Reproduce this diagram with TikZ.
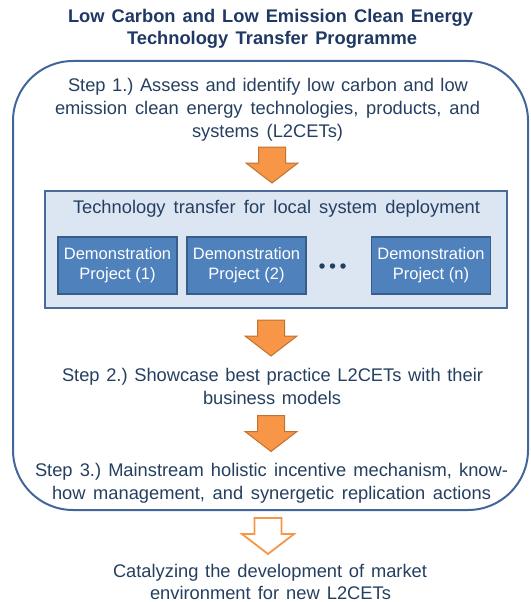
\documentclass[tikz,border=0pt]{standalone}
\usepackage{fontspec}
\setmainfont{Liberation Sans}
\frenchspacing
\definecolor{textblue}{HTML}{243F60}
\definecolor{titleblue}{HTML}{1F3864}
\definecolor{frameblue}{HTML}{43669A}
\definecolor{panelfill}{HTML}{DCE6F2}
\definecolor{paneledge}{HTML}{4A6A98}
\definecolor{demofill}{HTML}{4F81BD}
\definecolor{demoedge}{HTML}{385D8A}
\definecolor{orangefill}{HTML}{F79646}
\definecolor{orangeedge}{HTML}{C0722F}
\newcommand{\jline}[2]{\makebox[#1pt][s]{#2}}
\begin{document}
\begin{tikzpicture}[x=1pt,y=-1pt,
  txt/.style={anchor=base, inner sep=0pt, text=textblue, font=\fontsize{18.3}{22}\selectfont},
  ttl/.style={anchor=base, inner sep=0pt, text=titleblue, font=\bfseries\fontsize{18.3}{22}\selectfont},
  demo/.style={draw=demoedge, fill=demofill, line width=1.5pt, minimum width=119pt, minimum height=57pt, inner sep=0pt, align=center, text=white, font=\fontsize{16.5}{20}\selectfont},
  panel/.style={draw=paneledge, fill=panelfill, line width=1.5pt},
  frame/.style={draw=frameblue, line width=2pt, rounded corners=60pt},
  solidarrow/.style={fill=orangefill, draw=orangeedge, line width=1pt},
  hollowarrow/.style={fill=white, draw=orangefill, line width=1.8pt},
  downarr/.pic={\path[pic actions] (-13.5,0) -- (13.5,0) -- (13.5,16) -- (26,16) -- (0,36) -- (-26,16) -- (-13.5,16) -- cycle;},
  dot/.style={circle, fill=textblue, inner sep=0pt, minimum size=5.5pt}
]
\useasboundingbox (0,0) rectangle (530,602);

% title
\node[ttl] (t1) at (270.5,22.5) {\jline{405}{Low Carbon and Low Emission Clean Energy}};
\node[ttl] (t2) at (272,45) {\jline{290}{Technology Transfer Programme}};

% outer frame
\draw[frame] (13,61) rectangle (528,510);

% step 1
\node[txt] (s1a) at (268,91.5) {\jline{400}{Step 1.) Assess and identify low carbon and low}};
\node[txt] (s1b) at (267.5,114.5) {\jline{425}{emission clean energy technologies, products, and}};
\node[txt] (s1c) at (267.5,137) {\jline{151}{systems (L2CETs)}};

\pic[solidarrow] (a1) at (272,147) {downarr};

% panel
\draw[panel] (45,191) rectangle (507,308);
\node[txt] (tt) at (276.5,213) {\jline{407}{Technology transfer for local system deployment}};
\node[demo] (d1) at (117.5,265.5) {Demonstration\\Project (1)};
\node[demo] (d2) at (246.5,265.5) {Demonstration\\Project (2)};
\node[demo] (d3) at (431,265.5) {Demonstration\\Project (n)};
\node[dot] (p1) at (322,266) {};
\node[dot] (p2) at (332.5,266) {};
\node[dot] (p3) at (343,266) {};

\pic[solidarrow] (a2) at (271,320) {downarr};

% step 2
\node[txt] (s2a) at (272.5,381) {\jline{421}{Step 2.) Showcase best practice L2CETs with their}};
\node[txt] (s2b) at (272,404) {\jline{138}{business models}};

\pic[solidarrow] (a3) at (271,415.5) {downarr};

% step 3
\node[txt] (s3a) at (271.5,476) {\jline{473}{Step 3.) Mainstream holistic incentive mechanism, know-}};
\node[txt] (s3b) at (271.5,499) {\jline{439}{how management, and synergetic replication actions}};

\pic[hollowarrow] (a4) at (268,518) {downarr};

% outcome
\node[txt] (o1) at (270,577) {\jline{314}{Catalyzing the development of market}};
\node[txt] (o2) at (270.5,599) {\jline{241}{environment for new L2CETs}};
\end{tikzpicture}
\end{document}
